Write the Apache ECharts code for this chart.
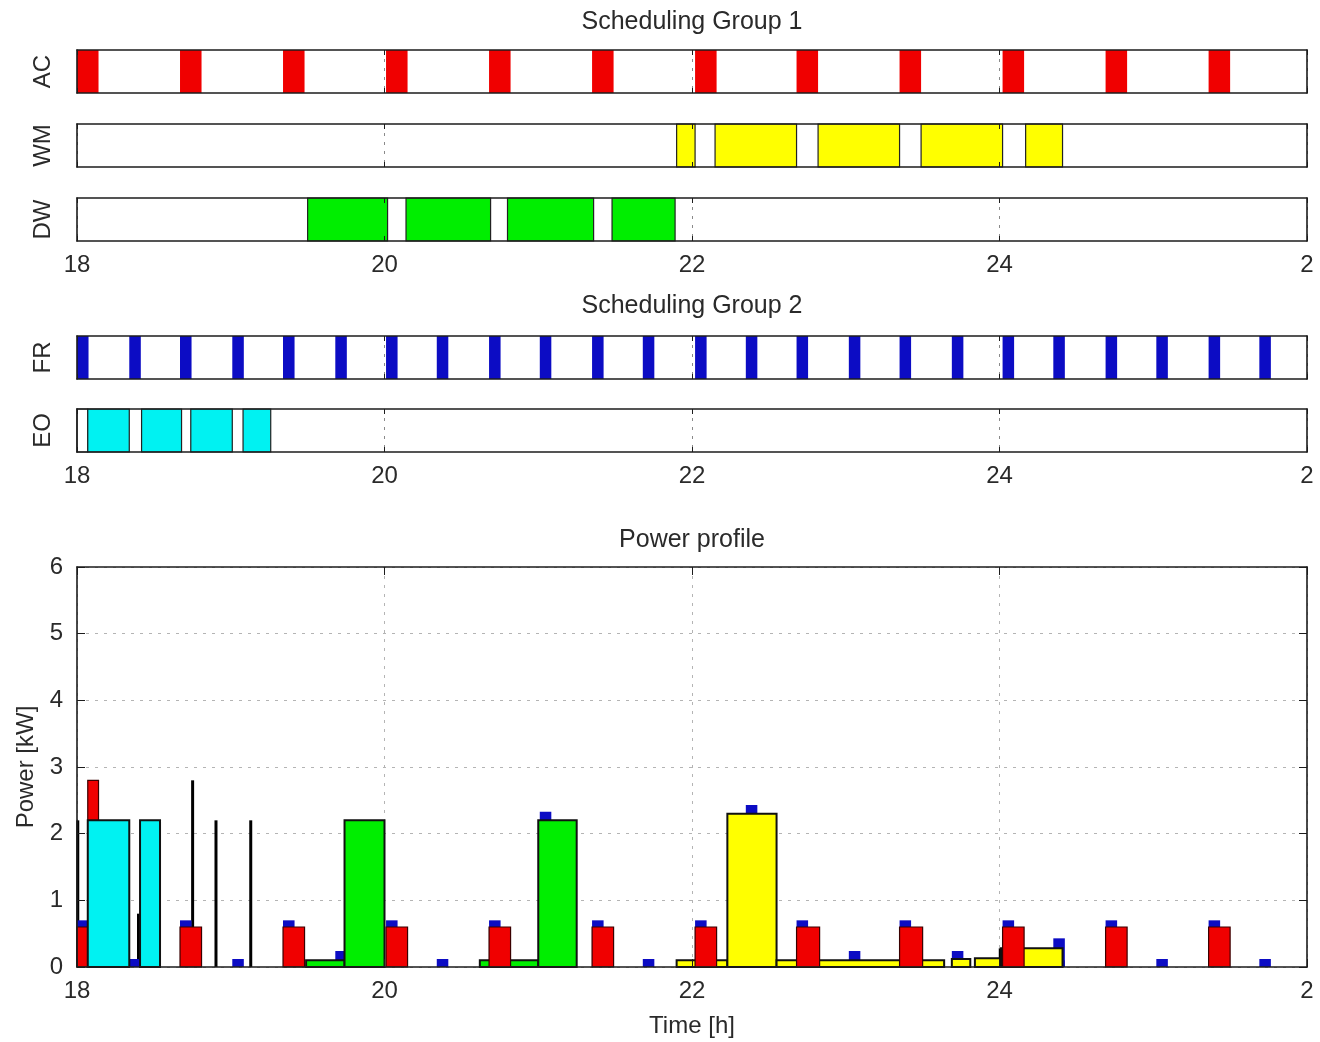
<!DOCTYPE html>
<html>
<head>
<meta charset="utf-8">
<script src="https://cdn.jsdelivr.net/npm/echarts@6.0.0/dist/echarts.min.js"></script>
<style>
html,body{margin:0;padding:0;background:#fff;}
#chart{width:1320px;height:1042px;}
</style>
</head>
<body>
<div id="chart"></div>
<script>
// ---------------- data ----------------
const xTicks = [18, 20, 22, 24, 26];
const xTickLabels = ['18', '20', '22', '24', '2'];
const powerTicks = [0, 1, 2, 3, 4, 5, 6];
const rowNames = ['AC', 'WM', 'DW', 'FR', 'EO'];
const groupTitles = ['Scheduling Group 1', 'Scheduling Group 2', 'Power profile'];
const xAxisName = 'Time [h]';
const yAxisName = 'Power [kW]';

// schedules: [start h, end h]
const acSchedule = [[18.00,18.14],[18.67,18.81],[19.34,19.48],[20.01,20.15],[20.68,20.82],[21.35,21.49],
                    [22.02,22.16],[22.68,22.82],[23.35,23.49],[24.02,24.16],[24.69,24.83],[25.36,25.50]];
const wmSchedule = [[21.90,22.02],[22.15,22.68],[22.82,23.35],[23.49,24.02],[24.17,24.41]];
const dwSchedule = [[19.50,20.02],[20.14,20.69],[20.80,21.36],[21.48,21.89]];
const frSchedule = [[18.00,18.075],[18.34,18.415],[18.67,18.745],[19.01,19.085],[19.34,19.415],[19.68,19.755],
                    [20.01,20.085],[20.34,20.415],[20.68,20.755],[21.01,21.085],[21.35,21.425],[21.68,21.755],
                    [22.02,22.095],[22.35,22.425],[22.68,22.755],[23.02,23.095],[23.35,23.425],[23.69,23.765],
                    [24.02,24.095],[24.35,24.425],[24.69,24.765],[25.02,25.095],[25.36,25.435],[25.69,25.765]];
const eoSchedule = [[18.07,18.34],[18.42,18.68],[18.74,19.01],[19.08,19.26]];
const eoIdle = [[18.00,18.07]];

// power profile: [start h, end h, kW level]
const frPowerTop = [0.7,0.12,0.7,0.12,0.7,0.24,0.7,0.12,0.7,2.33,0.7,0.12,
                    0.7,2.43,0.7,0.24,0.7,0.24,0.7,0.43,0.7,0.12,0.7,0.12];
const acPower = [[18.00,18.07,0.6],[18.07,18.14,2.8],[18.67,18.81,0.6],[19.34,19.48,0.6],[20.01,20.15,0.6],
                 [20.68,20.82,0.6],[21.35,21.49,0.6],[22.02,22.16,0.6],[22.68,22.83,0.6],[23.35,23.50,0.6],
                 [24.02,24.16,0.6],[24.69,24.83,0.6],[25.36,25.50,0.6]];
const dwPower = [[19.49,19.74,0.1],[19.74,20.00,2.2],[20.62,21.00,0.1],[21.00,21.25,2.2]];
const wmPower = [[21.90,22.23,0.1],[22.23,22.55,2.3],[22.55,23.64,0.1],[23.69,23.81,0.12],[23.84,24.01,0.13],[24.01,24.41,0.28]];
const eoPower = [[18.07,18.34,2.2],[18.41,18.54,2.2]];
// thin spikes: [time h, kW level]
const spikePower = [[18.005,2.2],[18.40,0.8],[18.752,2.8],[18.904,2.2],[19.13,2.2],[24.005,0.28],[24.415,0.1]];

// ---------------- styles / layout ----------------
const FONT = 'Liberation Sans, Arial, Helvetica, sans-serif';
const TXT = '#2a2a2a';
const AX = '#1c1c1c';
const COLORS = {AC:'#f00000', WM:'#ffff00', DW:'#00ee00', FR:'#0c0cc4', EO:'#00f2f2', idle:'#ffffff'};
const LEFT = 77, WIDTH = 1230;
const boxes = [{top:50,h:43},{top:124,h:43},{top:198,h:43},{top:336,h:43},{top:409,h:43},{top:567,h:400}];
const labelRows = {2:true, 4:true, 5:true};

function rectRender(fill, stroke, lw) {
  return function (params, api) {
    const a = api.coord([api.value(0), api.value(3)]);
    const b = api.coord([api.value(1), api.value(2)]);
    const cs = params.coordSys;
    const shape = echarts.graphic.clipRectByRect(
      {x:a[0], y:a[1], width:b[0]-a[0], height:b[1]-a[1]},
      {x:cs.x, y:cs.y, width:cs.width, height:cs.height});
    if (!shape) return null;
    return {type:'rect', shape: shape,
      style:{fill: fill, stroke: stroke || null, lineWidth: stroke ? lw : 0}};
  };
}
function spikeRender(params, api) {
  const a = api.coord([api.value(0), api.value(1)]);
  const b = api.coord([api.value(0), 0]);
  return {type:'line', shape:{x1:a[0], y1:a[1], x2:b[0], y2:b[1]},
    style:{stroke:'#000', lineWidth:3}};
}

const grids = [], xAxes = [], yAxes = [], series = [];
const xIdx = [], yIdx = [];
boxes.forEach(function (b, i) {
  const isPower = i === 5;
  grids.push({left:LEFT, top:b.top, width:WIDTH, height:b.h});
  const lineStyle = {color:AX, width:1.6};
  xIdx.push(xAxes.length);
  xAxes.push({type:'value', gridIndex:i, min:18, max:26, interval:2, position:'bottom', z:10,
    axisLine:{show:true, onZero:false, lineStyle:lineStyle},
    axisTick:{show:true, inside:true, length:isPower?8:5, lineStyle:{color:AX, width:1}},
    axisLabel:{show:!!labelRows[i], margin:12, color:TXT, fontSize:24, fontFamily:FONT,
      showMinLabel:true, showMaxLabel:true,
      formatter:function (v) { const k = xTicks.indexOf(v); return k >= 0 ? xTickLabels[k] : ''; }},
    splitLine:{show:false},
    name:isPower ? xAxisName : '', nameLocation:'middle', nameGap:47,
    nameTextStyle:{color:TXT, fontSize:24, fontFamily:FONT}});
  xAxes.push({type:'value', gridIndex:i, min:18, max:26, interval:2, position:'top', z:10,
    axisLine:{show:true, onZero:false, lineStyle:lineStyle},
    axisTick:{show:true, inside:true, length:isPower?8:5, lineStyle:{color:AX, width:1}},
    axisLabel:{show:false}, splitLine:{show:false}});
  xAxes.push({type:'value', gridIndex:i, min:18, max:26, interval:2, position:'bottom', z:0,
    axisLine:{show:false}, axisTick:{show:false}, axisLabel:{show:false},
    splitLine:{show:true, lineStyle:{type:[3,6], color:isPower?'#b4b4b4':'#8a8a8a', width:1}}});

  yIdx.push(yAxes.length);
  yAxes.push({type:'value', gridIndex:i, min:0, max:isPower?6:1, interval:1, position:'left', z:10,
    axisLine:{show:true, onZero:false, lineStyle:lineStyle},
    axisTick:{show:isPower, inside:true, length:8, lineStyle:{color:AX, width:1}},
    axisLabel:{show:isPower, margin:14, color:TXT, fontSize:24, fontFamily:FONT,
      formatter:function (v) { return powerTicks.indexOf(v) >= 0 ? String(v) : ''; }},
    splitLine:{show:false},
    name:isPower ? yAxisName : rowNames[i], nameLocation:'middle', nameRotate:90,
    nameGap:isPower ? 33 : 22,
    nameTextStyle:{color:TXT, fontSize:24, fontFamily:FONT}});
  yAxes.push({type:'value', gridIndex:i, min:0, max:isPower?6:1, interval:1, position:'right', z:10,
    axisLine:{show:true, onZero:false, lineStyle:lineStyle},
    axisTick:{show:isPower, inside:true, length:8, lineStyle:{color:AX, width:1}},
    axisLabel:{show:false}, splitLine:{show:false}});
  if (isPower) {
    yAxes.push({type:'value', gridIndex:i, min:0, max:6, interval:1, position:'left', z:0,
      axisLine:{show:false}, axisTick:{show:false}, axisLabel:{show:false},
      splitLine:{show:true, lineStyle:{type:[3,6], color:'#b4b4b4', width:1}}});
  }
});

function scheduleSeries(row, list, fill, stroke) {
  series.push({type:'custom', xAxisIndex:xIdx[row], yAxisIndex:yIdx[row], z:2,
    renderItem:rectRender(fill, stroke, 1.2),
    encode:{x:[0,1], y:[2,3]},
    data:list.map(function (s) { return [s[0], s[1], 0, 1]; })});
}
scheduleSeries(0, acSchedule, COLORS.AC, null);
scheduleSeries(1, wmSchedule, COLORS.WM, '#222');
scheduleSeries(2, dwSchedule, COLORS.DW, '#222');
scheduleSeries(3, frSchedule, COLORS.FR, null);
scheduleSeries(4, eoIdle, COLORS.idle, '#222');
scheduleSeries(4, eoSchedule, COLORS.EO, '#222');

function powerSeries(list, fill, stroke, lw) {
  series.push({type:'custom', xAxisIndex:xIdx[5], yAxisIndex:yIdx[5], z:2,
    renderItem:rectRender(fill, stroke, lw),
    encode:{x:[0,1], y:[2,3]},
    data:list.map(function (s) { return [s[0], s[1], 0, s[2]]; })});
}
series.push({type:'custom', xAxisIndex:xIdx[5], yAxisIndex:yIdx[5], z:2,
  renderItem:spikeRender, encode:{x:0, y:1}, data:spikePower});
powerSeries(frSchedule.map(function (s, k) { return [s[0], s[1], frPowerTop[k]]; }), COLORS.FR, null, 0);
powerSeries(dwPower, COLORS.DW, '#111', 2);
powerSeries(wmPower, COLORS.WM, '#111', 2);
powerSeries(acPower, COLORS.AC, '#3a0000', 1.2);
powerSeries(eoPower, COLORS.EO, '#111', 2);

const titleY = [22, 306, 540];
const graphics = groupTitles.map(function (t, i) {
  return {type:'text', x:LEFT + WIDTH / 2, y:titleY[i], z:20,
    style:{text:t, align:'center', verticalAlign:'middle', textAlign:'center', textVerticalAlign:'middle',
      fontSize:25, fontFamily:FONT, fill:TXT}};
});

const chart = echarts.init(document.getElementById('chart'), null, {renderer:'canvas'});
chart.setOption({
  animation:false,
  backgroundColor:'#ffffff',
  grid:grids, xAxis:xAxes, yAxis:yAxes, series:series, graphic:graphics
});
</script>
</body>
</html>
